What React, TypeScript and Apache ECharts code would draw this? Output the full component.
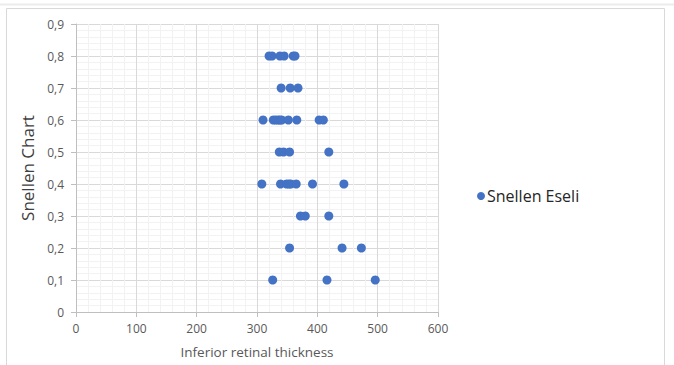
import React, { useEffect, useRef } from "react";
import * as echarts from "echarts";

const seriesName = "Snellen Eseli";
const xAxisTitle = "Inferior retinal thickness";
const yAxisTitle = "Snellen Chart";

// [inferior retinal thickness, snellen value]
const row08 = [320, 325, 338, 345, 360, 363];
const row07 = [340, 355, 368];
const row06 = [310, 327, 331, 335, 338, 341, 352, 366, 403, 410];
const row05 = [337, 344, 354, 419];
const row04 = [308, 339, 349, 353, 356, 365, 392, 444];
const row03 = [372, 380, 419];
const row02 = [354, 441, 473];
const row01 = [326, 416, 496];

const rows: [number, number[]][] = [
  [0.8, row08],
  [0.7, row07],
  [0.6, row06],
  [0.5, row05],
  [0.4, row04],
  [0.3, row03],
  [0.2, row02],
  [0.1, row01],
];

const points: [number, number][] = [];
rows.forEach(([y, xs]) => xs.forEach((x) => points.push([x, y])));

export default function App() {
  const ref = useRef<HTMLDivElement>(null);
  useEffect(() => {
    if (!ref.current) return;
    const chart = echarts.init(ref.current, null, { renderer: "svg" });
    const font = "'Open Sans', 'Liberation Sans', sans-serif";
    chart.setOption({
      animation: false,
      backgroundColor: "#ffffff",
      textStyle: { fontFamily: font },
      graphic: [
        {
          type: "rect",
          shape: { x: 6.5, y: 8.5, width: 658, height: 370 },
          style: { fill: "none", stroke: "#d9d9d9", lineWidth: 1 },
          silent: true,
        },
        {
          type: "line",
          shape: { x1: 0, y1: 4.5, x2: 674, y2: 4.5 },
          style: { stroke: "#ececec", lineWidth: 2 },
          silent: true,
        },
      ],
      grid: { left: 76, right: 236, top: 24, bottom: 53, containLabel: false },
      legend: {
        show: true,
        left: 472,
        top: 183,
        icon: "circle",
        itemWidth: 8,
        itemHeight: 8,
        itemGap: 2,
        textStyle: { fontSize: 16, color: "#262626", fontFamily: font, padding: [0, 0, 0, -3] },
        data: [seriesName],
      },
      xAxis: {
        type: "value",
        min: 0,
        max: 600,
        interval: 100,
        name: xAxisTitle,
        nameLocation: "middle",
        nameGap: 33,
        nameTextStyle: { fontSize: 13.5, color: "#595959", fontFamily: font },
        axisLine: { show: true, lineStyle: { color: "#bfbfbf" } },
        axisTick: { show: true, length: 5, lineStyle: { color: "#bfbfbf" } },
        axisLabel: { fontSize: 12, color: "#595959", margin: 10, fontFamily: font },
        splitLine: { show: true, lineStyle: { color: "#d9d9d9" } },
        minorTick: { show: false, splitNumber: 5 },
        minorSplitLine: { show: true, lineStyle: { color: "#f2f2f2" } },
      },
      yAxis: {
        type: "value",
        min: 0,
        max: 0.9,
        interval: 0.1,
        name: yAxisTitle,
        nameLocation: "middle",
        nameGap: 40,
        nameTextStyle: { fontSize: 17, color: "#404040", fontFamily: font },
        axisLine: { show: true, lineStyle: { color: "#bfbfbf" } },
        axisTick: { show: true, length: 5, lineStyle: { color: "#bfbfbf" } },
        axisLabel: {
          fontSize: 12,
          color: "#595959",
          margin: 12,
          fontFamily: font,
          formatter: (v: number) => (Math.round(v * 10) / 10).toString().replace(".", ","),
        },
        splitLine: { show: true, lineStyle: { color: "#d9d9d9" } },
        minorTick: { show: false, splitNumber: 5 },
        minorSplitLine: { show: true, lineStyle: { color: "#f2f2f2" } },
      },
      series: [
        {
          name: seriesName,
          type: "scatter",
          data: points,
          symbol: "circle",
          symbolSize: 9,
          itemStyle: { color: "#4472c4", opacity: 1 },
        },
      ],
    });
    return () => chart.dispose();
  }, []);
  return <div ref={ref} style={{ width: 674, height: 365, position: "fixed", left: 0, top: 0 }} />;
}
